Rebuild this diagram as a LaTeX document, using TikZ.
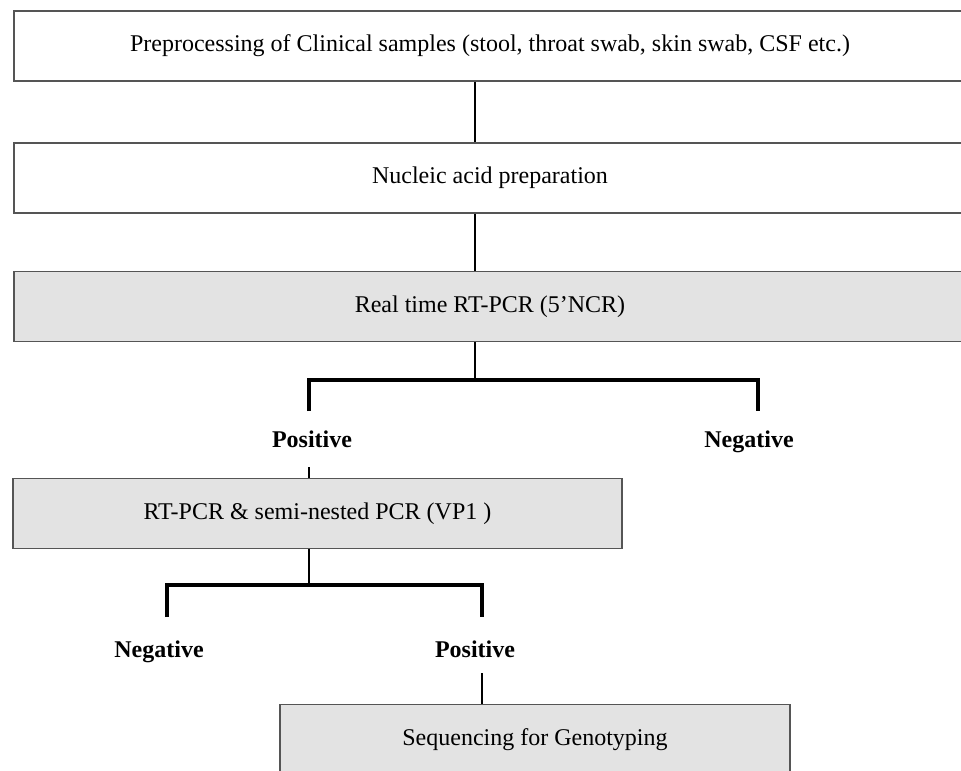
\documentclass[tikz,border=0pt]{standalone}
\usepackage{fontspec}
\setmainfont{Liberation Serif}
\usepackage{tikz}
\usetikzlibrary{positioning}
\usetikzlibrary{calc}
\definecolor{boxgray}{RGB}{227, 227, 227}
\definecolor{edgegray}{RGB}{85, 85, 85}
\newcommand{\flowsize}{\fontsize{18}{21.6}\selectfont}

\begin{document}
\begin{tikzpicture}[
  x=0.75pt, y=-0.75pt,
  box/.style={rectangle, draw=edgegray, line width=1pt, minimum height=52.5pt, inner sep=0pt, align=center, font=\flowsize},
  greybox/.style={box, fill=boxgray},
  result/.style={font=\flowsize\bfseries, inner sep=2pt, text height=12.5pt, text depth=4pt},
  link/.style={line width=2.2pt},
  bar/.style={line width=3pt}
]
\useasboundingbox (0,0) rectangle (961,771);

% Boxes
\node[box, minimum width=714pt]     (prep) at (490,46)  {Preprocessing of Clinical samples (stool, throat swab, skin swab, CSF etc.)};
\node[box, minimum width=714pt]     (nap)  at (490,178) {Nucleic acid preparation};
\node[greybox, minimum width=714pt] (rt)   at (490,306.5) {Real time RT-PCR (5’NCR)};
\node[greybox, minimum width=456.75pt] (vp) at (317.5,513.5) {RT-PCR \& semi-nested PCR (VP1 )};
\node[greybox, minimum width=382.5pt]  (seq) at (535,739.5) {Sequencing for Genotyping};

% Results
\node[result] (pos1) at (312,442) {Positive};
\node[result] (neg1) at (749,442) {Negative};
\node[result] (neg2) at (159,652) {Negative};
\node[result] (pos2) at (475,652) {Positive};

% Branch points
\coordinate (j1)   at (475,380);
\coordinate (p1up) at (309,411);
\coordinate (n1up) at (758,411);
\coordinate (p1dn) at (309,467);
\coordinate (j2)   at (309,585);
\coordinate (n2up) at (167,617);
\coordinate (p2up) at (482,617);
\coordinate (p2dn) at (482,673);

% Straight links
\draw[link] (prep.south -| j1) -- (nap.north -| j1);
\draw[link] (nap.south -| j1)  -- (rt.north -| j1);
\draw[link] (rt.south -| j1)   -- (j1);
\draw[link] (p1dn) -- (vp.north -| p1dn);
\draw[link] (vp.south -| j2)   -- (j2);
\draw[link] (p2dn) -- (seq.north -| p2dn);

% Split bars
\draw[bar] (p1up) -- (p1up |- j1) -- (n1up |- j1) -- (n1up);
\draw[bar] (n2up) -- (n2up |- j2) -- (p2up |- j2) -- (p2up);

\end{tikzpicture}
\end{document}
